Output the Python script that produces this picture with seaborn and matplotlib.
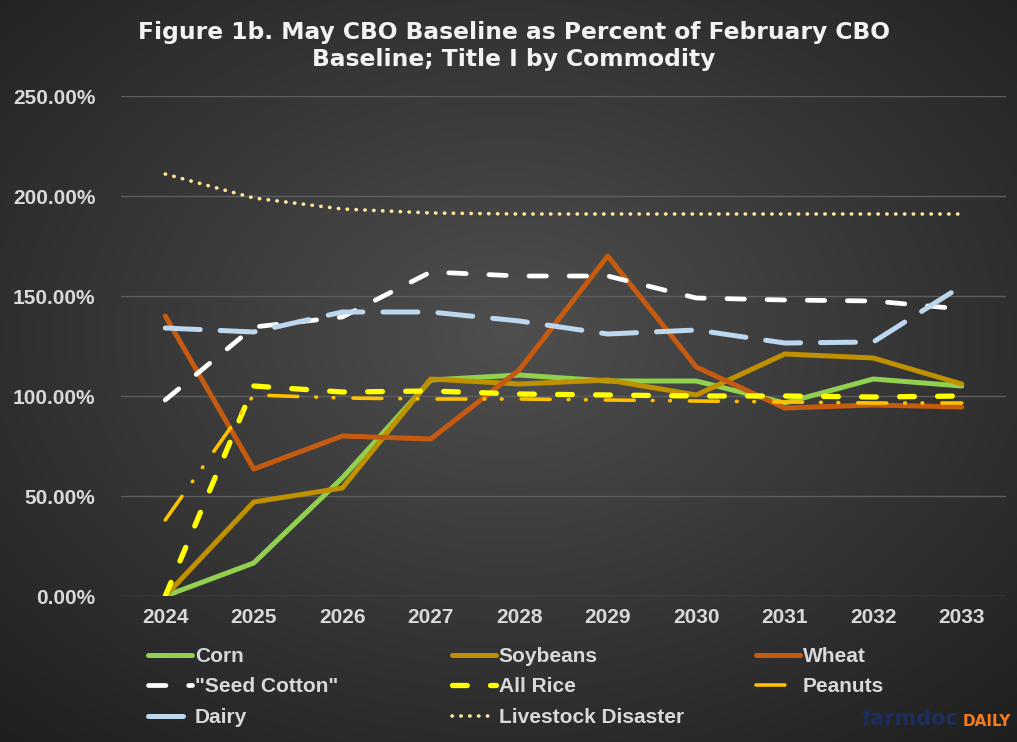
import numpy as np
import pandas as pd
import seaborn as sns
import matplotlib.pyplot as plt
from matplotlib.ticker import FuncFormatter

years = [2024, 2025, 2026, 2027, 2028, 2029, 2030, 2031, 2032, 2033]

# percent of February baseline
corn = [0.0, 16.5, 59.0, 108.0, 110.5, 107.5, 107.5, 96.5, 108.5, 105.0]
soybeans = [0.0, 47.0, 54.0, 108.5, 106.0, 108.0, 100.5, 121.0, 119.0, 106.0]
wheat = [140.0, 63.5, 80.0, 78.5, 113.0, 170.0, 114.5, 94.0, 95.5, 94.5]
seed_cotton = [98.0, 134.5, 139.5, 162.0, 160.0, 160.0, 149.0, 148.0, 147.5, 143.5]
all_rice = [0.0, 105.0, 102.0, 102.5, 101.0, 100.5, 100.0, 100.0, 99.5, 100.0]
peanuts = [38.0, 100.5, 99.0, 98.5, 98.5, 98.0, 97.5, 97.0, 96.5, 96.5]
dairy = [134.0, 132.0, 142.0, 142.0, 137.5, 131.0, 133.0, 126.5, 127.0, 155.0]
livestock = [211.0, 199.0, 193.5, 191.5, 191.0, 191.0, 191.0, 191.0, 191.0, 191.0]

labels = ['Corn', 'Soybeans', 'Wheat', '"Seed Cotton"', 'All Rice',
          'Peanuts', 'Dairy', 'Livestock Disaster']
series = [corn, soybeans, wheat, seed_cotton, all_rice, peanuts, dairy, livestock]
colors = ['#92D050', '#BF9000', '#C55A11', '#FFFFFF', '#FFFF00',
          '#FFC000', '#BDD7EE', '#FFE699']
widths = [3.6, 3.6, 3.6, 3.4, 3.8, 2.6, 3.6, 2.6]
styles = ['-', '-', '-', (0, (3.7, 4.8)), (0, (2.8, 4.4)),
          (0, (8.0, 5.0, 0.2, 4.6, 0.2, 5.3)), (0, (7.0, 4.0)),
          (0, (0.1, 2.35))]

fig = plt.figure(figsize=(10.17, 7.42), dpi=100)

# dark radial background
bg = fig.add_axes([0, 0, 1, 1], zorder=-10)
yy, xx = np.mgrid[0:1:300j, 0:1:400j]
r = np.sqrt(((xx - 0.5) / 0.75) ** 2 + ((yy - 0.45) / 0.75) ** 2)
shade = np.clip(0.31 - 0.19 * r, 0.12, 0.31)
bg.imshow(np.dstack([shade] * 3), aspect='auto', extent=[0, 1, 0, 1])
bg.axis('off')

ax = fig.add_axes([121 / 1017, 1 - 596 / 742, 885 / 1017, 500 / 742])
ax.set_facecolor('none')

for lab, vals, c, lw, ls in zip(labels, series, colors, widths, styles):
    df = pd.DataFrame({'year': years, 'pct': vals})
    sns.lineplot(data=df, x='year', y='pct', ax=ax, color=c, lw=lw,
                 linestyle=ls, label=lab, solid_capstyle='round',
                 dash_capstyle='round', solid_joinstyle='round', legend=False)

ax.set_xlim(2023.5, 2033.5)
ax.set_ylim(0, 250)
ax.set_yticks([0, 50, 100, 150, 200, 250])
ax.set_xticks(years)
ax.yaxis.set_major_formatter(FuncFormatter(lambda v, p: f'{v:.2f}%'))
ax.grid(axis='y', color='#5E5E5E', lw=1.0)
ax.set_axisbelow(True)
for s in ax.spines.values():
    s.set_visible(False)
ax.tick_params(length=0, labelcolor='#D9D9D9')
ax.tick_params(axis='x', pad=8.5)
ax.tick_params(axis='y', pad=18.5)
for t in ax.get_xticklabels() + ax.get_yticklabels():
    t.set_fontweight('bold')
    t.set_fontfamily('Liberation Sans')
    t.set_fontsize(15)
ax.set_xlabel('')
ax.set_ylabel('')

fig.text(0.505, 1 - 46 / 742,
         'Figure 1b. May CBO Baseline as Percent of February CBO\nBaseline; Title I by Commodity',
         ha='center', va='center', fontsize=16.8, fontweight='bold',
         color='#F2F2F2', linespacing=1.22)

# legend: three columns placed by hand, rows read left to right
lines = ax.get_lines()
cols = [[0, 3, 6], [1, 4, 7], [2, 5]]
xs = [148, 452, 756]
for idx, x0 in zip(cols, xs):
    fig.legend([lines[i] for i in idx], [labels[i] for i in idx],
               loc='upper left', bbox_to_anchor=(x0 / 1017, 1 - 647 / 742),
               frameon=False, borderpad=0, borderaxespad=0,
               handlelength=2.1, handletextpad=0.15, labelspacing=0.55,
               prop={'family': 'Liberation Sans', 'weight': 'bold', 'size': 15},
               labelcolor='#D9D9D9')

fig.text(862 / 1017, 1 - 719 / 742, 'farmdoc', ha='left', va='center',
         fontsize=15, fontweight='bold', color='#1C2D5E')
fig.text(1011 / 1017, 1 - 721 / 742, 'DAILY', ha='right', va='center',
         fontsize=11, fontweight='bold', color='#F47B20')

fig.savefig('out.png', dpi=100)
